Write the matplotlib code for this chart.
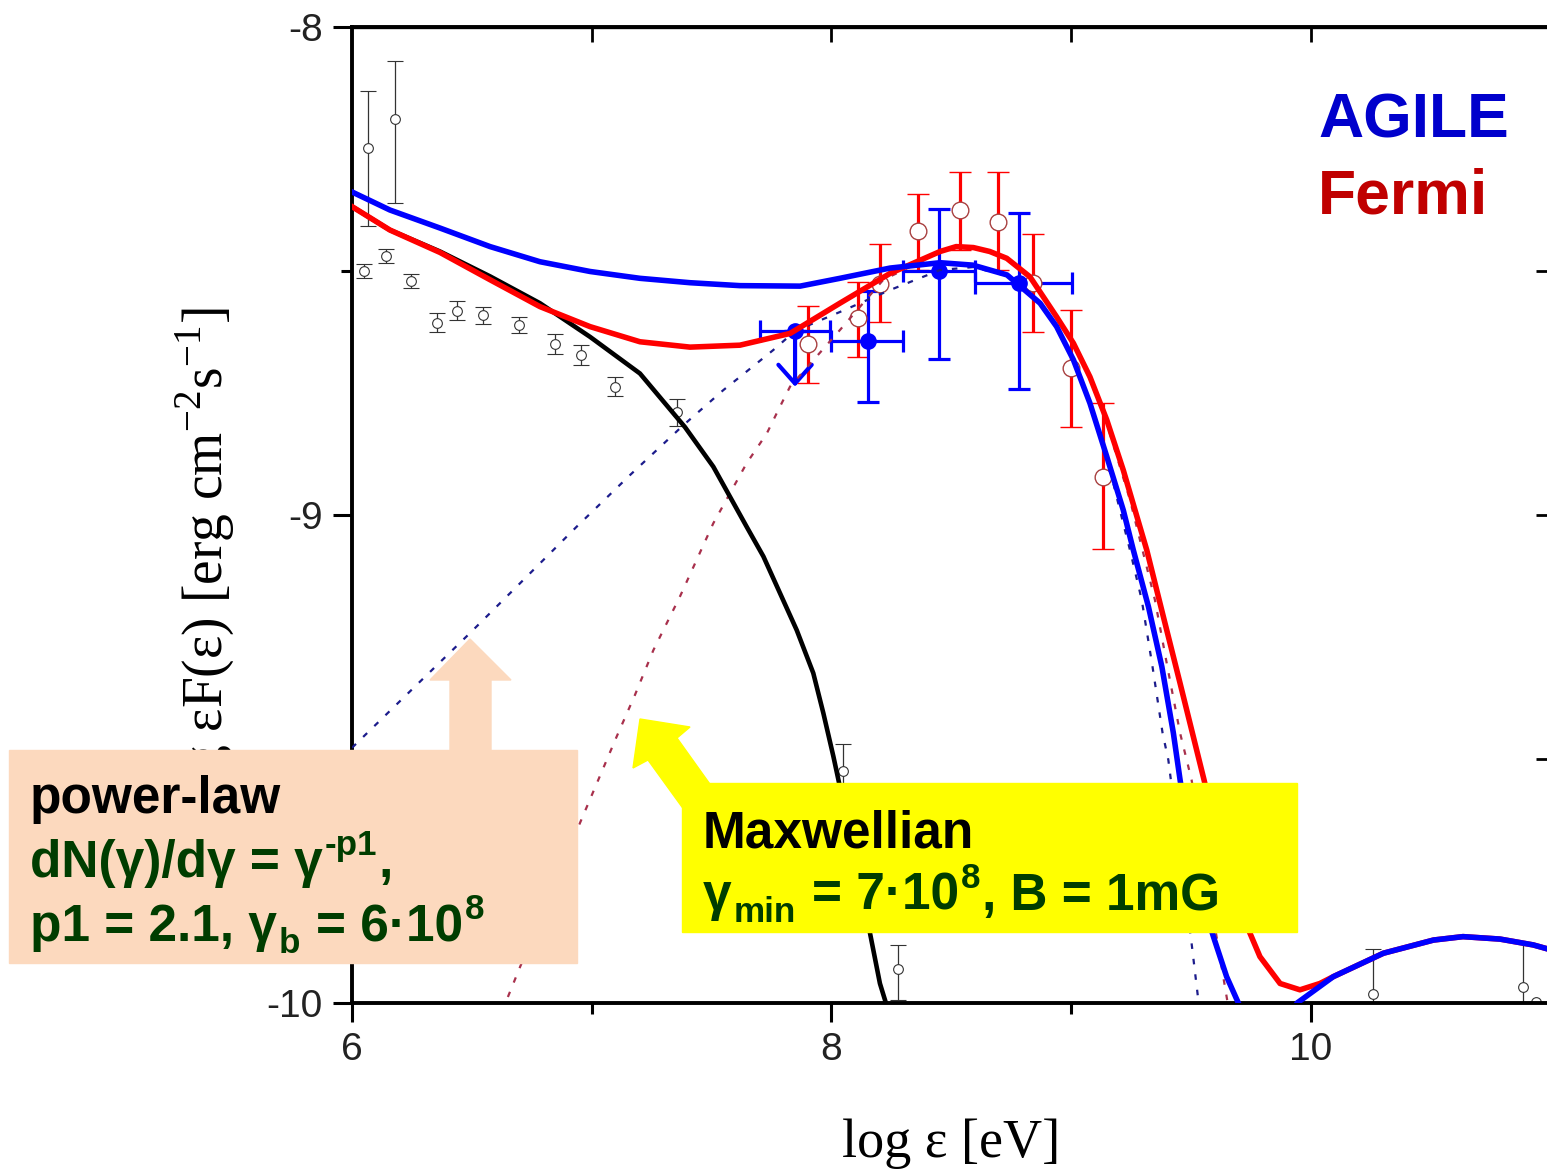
import matplotlib
matplotlib.use("Agg")
import matplotlib.pyplot as plt
from matplotlib.patches import Polygon, Rectangle

# ---- data: x = log eps [eV], y = log eps F(eps) ----
# low energy data (black open circles)
low_x = [6.065, 6.179, 6.05, 6.142, 6.245, 6.353, 6.44, 6.545, 6.698, 6.847,
         6.954, 7.098, 7.354, 8.05, 8.276, 10.26, 10.886, 10.94]
low_y = [-8.247, -8.189, -8.5, -8.469, -8.52, -8.606, -8.581, -8.591, -8.611, -8.650,
         -8.672, -8.737, -8.788, -9.524, -9.931, -9.982, -9.967, -9.997]
low_up = [0.116, 0.119, 0.015, 0.015, 0.014, 0.02, 0.019, 0.017, 0.017, 0.02,
          0.021, 0.02, 0.026, 0.054, 0.05, 0.092, 0.089, 0.0]
low_dn = [0.160, 0.172, 0.015, 0.015, 0.014, 0.02, 0.019, 0.017, 0.017, 0.02,
          0.021, 0.02, 0.03, 0.054, 0.063, 0.092, 0.089, 0.0]

# Fermi (red open circles)
fermi_x = [7.903, 8.112, 8.202, 8.362, 8.538, 8.696, 8.842, 8.999, 9.132]
fermi_y = [-8.65, -8.597, -8.527, -8.419, -8.376, -8.399, -8.524, -8.699, -8.922]
fermi_up = [0.078, 0.075, 0.082, 0.077, 0.079, 0.102, 0.100, 0.119, 0.152]
fermi_dn = [0.080, 0.079, 0.077, 0.079, 0.080, 0.099, 0.100, 0.120, 0.148]

# AGILE (blue filled circles), first point is an upper limit
agile_x = [7.848, 8.151, 8.448, 8.784]
agile_y = [-8.623, -8.643, -8.501, -8.525]
agile_xl = [0.146, 0.151, 0.148, 0.184]
agile_xr = [0.146, 0.149, 0.152, 0.218]
agile_up = [0.0, 0.101, 0.129, 0.144]
agile_dn = [0.114, 0.126, 0.180, 0.217]
agile_ul = [True, False, False, False]

# model curves
blue_x = [6.0, 6.158, 6.367, 6.576, 6.784, 6.993, 7.201, 7.410, 7.618, 7.869,
          8.035, 8.244, 8.453, 8.590, 8.732, 8.870, 8.939, 9.009, 9.078, 9.148,
          9.217, 9.259, 9.322, 9.378, 9.426, 9.454, 9.523, 9.593, 9.648, 9.697,
          9.76, 9.85, 9.942, 10.093, 10.302, 10.511, 10.634, 10.788, 10.927, 11.0]
blue_y = [-8.338, -8.375, -8.412, -8.450, -8.481, -8.501, -8.515, -8.524, -8.530, -8.531,
          -8.515, -8.494, -8.483, -8.488, -8.508, -8.566, -8.614, -8.682, -8.771, -8.880,
          -8.990, -9.072, -9.188, -9.311, -9.447, -9.543, -9.755, -9.864, -9.946, -10.0,
          -10.06, -10.08, -10.0, -9.946, -9.898, -9.871, -9.864, -9.869, -9.881, -9.891]

red_x = [6.0, 6.158, 6.367, 6.576, 6.784, 6.993, 7.201, 7.410, 7.618, 7.827,
         8.035, 8.244, 8.453, 8.52, 8.592, 8.66, 8.731, 8.828, 8.939, 9.009,
         9.078, 9.148, 9.217, 9.315, 9.384, 9.454, 9.554, 9.620, 9.704, 9.787,
         9.871, 9.954, 10.037, 10.093, 10.302, 10.511, 10.634, 10.788, 10.927, 11.0]
red_y = [-8.368, -8.416, -8.462, -8.518, -8.573, -8.614, -8.645, -8.656, -8.652, -8.628,
         -8.566, -8.505, -8.460, -8.450, -8.452, -8.460, -8.474, -8.512, -8.594, -8.648,
         -8.717, -8.805, -8.908, -9.072, -9.208, -9.345, -9.543, -9.686, -9.809, -9.905,
         -9.960, -9.973, -9.960, -9.946, -9.898, -9.871, -9.864, -9.869, -9.881, -9.891]

black_x = [6.0, 6.158, 6.367, 6.576, 6.784, 6.993, 7.201, 7.389, 7.507, 7.646,
           7.716, 7.855, 7.924, 7.966, 8.008, 8.029, 8.147, 8.202, 8.227, 8.26]
black_y = [-8.368, -8.416, -8.460, -8.511, -8.566, -8.635, -8.710, -8.820, -8.901, -9.024,
           -9.085, -9.236, -9.324, -9.406, -9.495, -9.543, -9.823, -9.960, -10.0, -10.08]

pl_x = [6.0, 6.27, 6.492, 6.715, 6.937, 7.160, 7.382, 7.549, 7.618, 7.757,
        7.848, 8.035, 8.244, 8.453, 8.590, 8.732, 8.870, 8.939, 9.009, 9.078,
        9.148, 9.203, 9.245, 9.294, 9.339, 9.381, 9.405, 9.502, 9.530, 9.56]
pl_y = [-9.477, -9.348, -9.242, -9.133, -9.024, -8.918, -8.816, -8.744, -8.717, -8.662,
        -8.623, -8.584, -8.539, -8.498, -8.492, -8.510, -8.566, -8.614, -8.682, -8.771,
        -8.880, -8.990, -9.072, -9.174, -9.311, -9.447, -9.502, -9.878, -9.994, -10.1]

mx_x = [6.6, 6.645, 6.701, 6.944, 7.021, 7.104, 7.180, 7.257, 7.368, 7.507,
        7.646, 7.730, 7.785, 7.827, 8.035, 8.216, 8.453, 8.52, 8.592, 8.66,
        8.731, 8.828, 8.939, 9.009, 9.078, 9.148, 9.245, 9.349, 9.401, 9.454,
        9.502, 9.606, 9.648, 9.68]
mx_y = [-10.08, -9.994, -9.926, -9.639, -9.550, -9.454, -9.369, -9.277, -9.167, -9.017,
        -8.894, -8.833, -8.778, -8.737, -8.621, -8.518, -8.462, -8.452, -8.454, -8.462,
        -8.476, -8.514, -8.597, -8.651, -8.722, -8.812, -8.969, -9.174, -9.311, -9.447,
        -9.543, -9.864, -9.987, -10.08]

W, H = 1547, 1170


def fx(px):
    return px / W


def fy(py):
    return 1 - py / H


fig = plt.figure(figsize=(W / 100, H / 100), dpi=100)
ax = fig.add_axes([fx(352), fy(1003), 1198.75 / W, 976 / H])

# curves
ax.plot(pl_x, pl_y, color='#1c1c8c', lw=1.6, ls=(0, (2.5, 4.5)), zorder=3)
ax.plot(mx_x, mx_y, color='#a8304c', lw=1.6, ls=(0, (2.5, 4.5)), zorder=3)
ax.plot(black_x, black_y, color='black', lw=3.3, zorder=4)
ax.plot(red_x, red_y, color='#ff0000', lw=4.0, zorder=5)
ax.plot(blue_x, blue_y, color='#0000ff', lw=4.0, zorder=6)

# data points
ax.errorbar(low_x, low_y, yerr=[low_dn, low_up], fmt='o', ms=7, mfc='white',
            mec='#333333', mew=0.8, ecolor='#333333', elinewidth=0.9,
            capsize=6, capthick=0.9, zorder=2)
ax.errorbar(fermi_x, fermi_y, yerr=[fermi_dn, fermi_up], fmt='o', ms=12, mfc='white',
            mec='#a84040', mew=1.0, ecolor='#ff0000', elinewidth=2.3,
            capsize=8, capthick=2.3, zorder=2)
ag_up = [0 if u else v for u, v in zip(agile_ul, agile_up)]
ag_dn = [0 if u else v for u, v in zip(agile_ul, agile_dn)]
ax.errorbar(agile_x, agile_y, xerr=[agile_xl, agile_xr], yerr=[ag_dn, ag_up], fmt='o',
            ms=11, mfc='#0000ff', mec='#0000ff', ecolor='#0000ff', elinewidth=2.3,
            capsize=8, capthick=2.3, zorder=2)
for x, y, d, u in zip(agile_x, agile_y, agile_dn, agile_ul):
    if u:
        ax.annotate('', xy=(x, y - d), xytext=(x, y),
                    arrowprops=dict(arrowstyle='->,head_length=0.45,head_width=0.4',
                                    color='#0000ff', lw=3.0,
                                    mutation_scale=30, shrinkA=0, shrinkB=0),
                    zorder=2)

ax.set_xlim(6, 11)
ax.set_ylim(-10, -8)

tick_font = dict(family='Liberation Sans', size=28, color='#222222')
ax.set_xticks([6, 8, 10])
ax.set_xticks([7, 9], minor=True)
ax.set_yticks([-10, -9, -8])
ax.set_yticks([-9.5, -8.5], minor=True)
ax.set_xticklabels(['6', '8', '10'], fontdict=tick_font)
ax.set_yticklabels(['-10', '-9', '-8'], fontdict=tick_font)
ax.tick_params(which='major', direction='out', length=14, width=2.2, pad=7)
ax.tick_params(which='minor', direction='out', length=8, width=2.2)
for s in ax.spines.values():
    s.set_linewidth(2.8)

secx = ax.secondary_xaxis('top')
secx.set_xticks([7, 8, 9, 10])
secx.tick_params(direction='in', length=11, width=2.0, labeltop=False)
secx.spines['top'].set_linewidth(2.4)
secy = ax.secondary_yaxis('right')
secy.set_yticks([-9.5, -9, -8.5])
secy.tick_params(direction='in', length=11, width=2.0, labelright=False)

ax.set_xlabel('log ε [eV]', family='Liberation Serif', size=39)
ax.xaxis.set_label_coords(0.5, -0.118)
ax.set_ylabel(r'log εF(ε) [erg cm$^{\mathregular{-2}}$s$^{\mathregular{-1}}$]',
              family='Liberation Serif', size=40)
ax.yaxis.set_label_coords(-0.096, 0.452)

# annotation boxes and arrows
peach = '#fcd9be'
green = '#003d00'
fig.patches.append(Rectangle((fx(9), fy(963)), (577 - 9) / W, (963 - 750) / H,
                             transform=fig.transFigure, color=peach, zorder=10))
fig.patches.append(Polygon([(fx(470), fy(639)), (fx(511), fy(680)), (fx(491), fy(680)),
                            (fx(491), fy(751)), (fx(450), fy(751)), (fx(450), fy(680)),
                            (fx(430), fy(680))],
                           transform=fig.transFigure, color=peach, zorder=10))
fig.patches.append(Rectangle((fx(682), fy(932)), (1297 - 682) / W, (932 - 783) / H,
                             transform=fig.transFigure, color='#ffff00', zorder=10))
fig.patches.append(Polygon([(fx(640), fy(719)), (fx(690), fy(727)), (fx(677), fy(738)),
                            (fx(712), fy(787)), (fx(682), fy(807)), (fx(648), fy(760)),
                            (fx(633), fy(768))],
                           transform=fig.transFigure, color='#ffff00', zorder=10))

BOX_SIZE = 37
renderer = fig.canvas.get_renderer()


def rich_line(x0, base, parts, color):
    # parts: (text, kind) with kind 'n' normal, 'sup', 'sub' or 'sp' (a blank)
    px_per_pt = 100 / 72
    x = x0
    for s, kind in parts:
        if kind == 'sp':
            x += 0.278 * BOX_SIZE * px_per_pt
            continue
        size = BOX_SIZE * (0.68 if kind in ('sup', 'sub') else 1.0)
        shift = {'n': 0, 'sup': 0.42, 'sub': -0.24}[kind] * BOX_SIZE * px_per_pt
        t = fig.text(fx(x), fy(base - shift), s, color=color, family='Liberation Sans',
                     weight='bold', size=size, va='baseline', ha='left', zorder=11)
        x += t.get_window_extent(renderer).width + 0.04 * size * px_per_pt


rich_line(30, 813, [('power-law', 'n')], 'black')
rich_line(30, 877, [('dN(γ)/dγ = γ', 'n'), ('-p1', 'sup'), (',', 'n')], green)
rich_line(30, 941, [('p1 = 2.1, γ', 'n'), ('b', 'sub'), ('', 'sp'), ('= 6·10', 'n'),
                    ('8', 'sup')], green)
rich_line(703, 847, [('Maxwellian', 'n')], 'black')
rich_line(703, 910, [('γ', 'n'), ('min', 'sub'), ('', 'sp'), ('= 7·10', 'n'), ('8', 'sup'),
                     (', B = 1mG', 'n')], green)

fig.text(fx(1318), fy(137), 'AGILE', color='#0000cc', family='Liberation Sans',
         weight='bold', size=45, va='baseline')
fig.text(fx(1318), fy(214), 'Fermi', color='#c00000', family='Liberation Sans',
         weight='bold', size=45, va='baseline')

fig.savefig('out.png', dpi=100)
